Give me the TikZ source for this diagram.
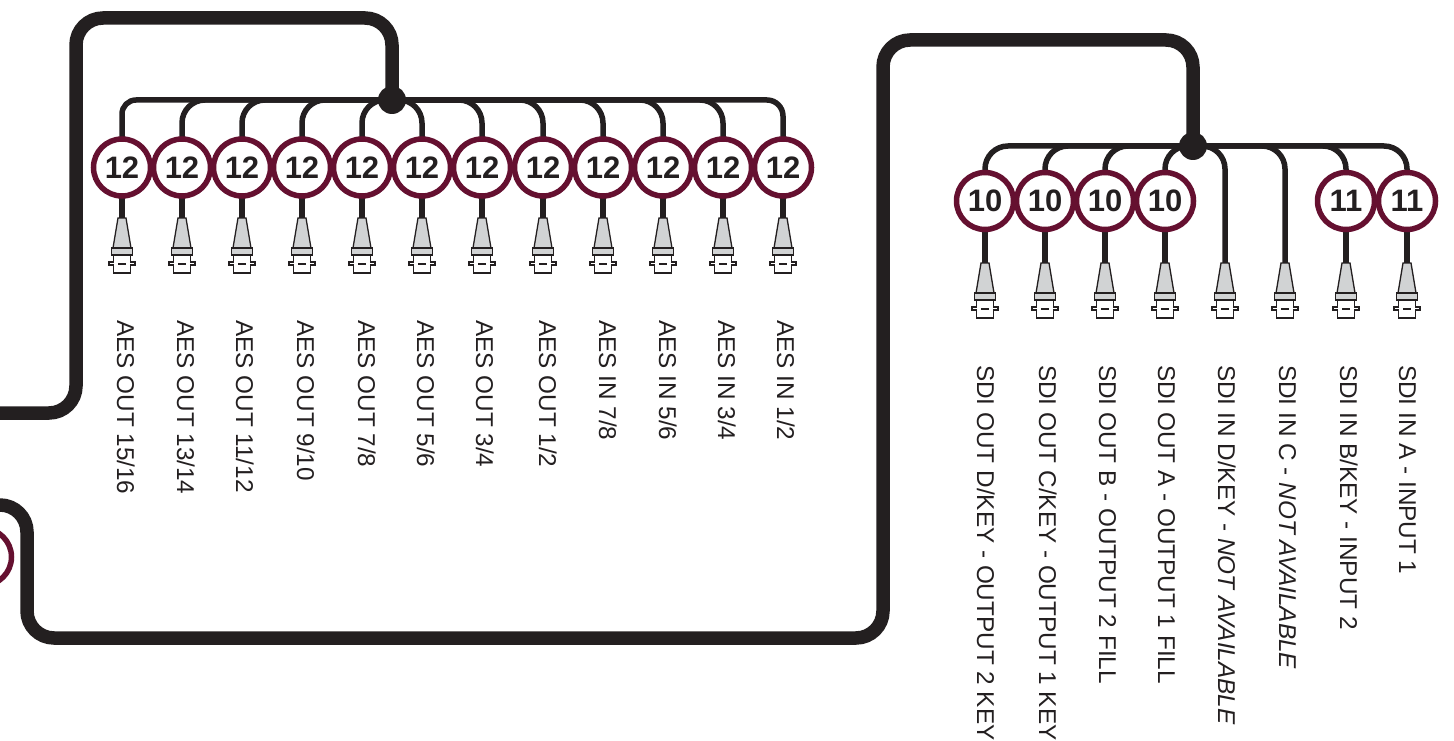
\documentclass[tikz,border=0pt]{standalone}
\usepackage{fontspec}
\setmainfont{Liberation Sans}
\pgfdeclarelayer{bg}
\pgfsetlayers{bg,main}
\definecolor{ink}{HTML}{231F20}
\definecolor{wine}{HTML}{651030}
\definecolor{shell}{HTML}{D1D3D4}
\tikzset{
  cable/.style={draw=ink,line width=5.5pt},
  trunk/.style={draw=ink,line width=13.5pt,rounded corners=27pt},
  badge/.style={circle,draw=wine,line width=5.5pt,fill=white,minimum size=57pt,inner sep=0pt,text=ink,font=\bfseries\fontsize{31}{33}\selectfont},
  junction/.style={circle,fill=ink,minimum size=28pt,inner sep=0pt},
  portlabel/.style={rotate=-90,anchor=base west,inner sep=0pt,text=ink,font=\fontsize{24.3}{28}\selectfont},
  bncline/.style={draw=ink,line width=1.3pt,line join=miter},
}
% #1 = name of the coordinate at the tip of the connector
\newcommand{\bncplug}[1]{%
  \begin{scope}[shift={(#1)}]
    \filldraw[bncline,fill=shell] (-4,0) -- (4,0) -- (9,30) -- (-9,30) -- cycle;
    \draw[bncline,fill=white] (-8.5,37) -- (-8.5,44) -- (-13,44) -- (-13,47) -- (-8.5,47) -- (-8.5,55) -- (8.5,55) -- (8.5,47) -- (13,47) -- (13,44) -- (8.5,44) -- (8.5,37) -- cycle;
    \filldraw[bncline,fill=shell] (-10.5,30) rectangle (10.5,37);
    \draw[draw=ink,line width=1.1pt] (-4,46) -- (4,46);
  \end{scope}}
\begin{document}
\begin{tikzpicture}[x=1pt,y=-1pt]
\useasboundingbox (0,0) rectangle (1454,741);
\clip (0,0) rectangle (1454,741);

% junctions
\node[junction] (j1) at (392,100) {};
\node[junction] (j2) at (1193,146) {};

% left group badges
\foreach \n/\x in {a1/122,a2/182,a3/242,a4/302,a5/362,a6/422,a7/482,a8/543,a9/603,a10/663,a11/723,a12/783}
  \node[badge] (\n) at (\x,167.5) {12};
% right group badges
\foreach \n/\x/\t in {b1/985/10,b2/1045/10,b3/1105/10,b4/1165/10,b7/1346/11,b8/1407/11}
  \node[badge] (\n) at (\x,201) {\t};

% plug tips
\foreach \n/\x in {a1/122,a2/182,a3/242,a4/302,a5/362,a6/422,a7/482,a8/543,a9/603,a10/663,a11/723,a12/783}
  \coordinate (p\n) at (\x,218);
\foreach \n/\x in {b1/985,b2/1045,b3/1105,b4/1165,b5/1225,b6/1285,b7/1346,b8/1407}
  \coordinate (p\n) at (\x,263);

% route corners of the trunks
\coordinate (t1a) at (392,18);
\coordinate (t1b) at (76,18);
\coordinate (t1c) at (76,413);
\coordinate (t1d) at (-10,413);
\coordinate (t2a) at (1193,40);
\coordinate (t2b) at (883,40);
\coordinate (t2c) at (883,638);
\coordinate (t2d) at (27,638);
\coordinate (t2e) at (27,505);
\coordinate (t2f) at (-10,505);

\begin{pgfonlayer}{bg}
  % bus cables
  \draw[cable,rounded corners=14pt] (a1.center) |- (j1.center);
  \foreach \n in {a2,a3,a4,a5}
    \draw[cable,rounded corners=23pt] (\n.center) |- (j1.center);
  \foreach \n in {a6,a7,a8,a9,a10,a11}
    \draw[cable,rounded corners=23pt] (\n.center) |- (j1.center);
  \draw[cable,rounded corners=16pt] (a12.center) |- (j1.center);
  \foreach \n in {b1,b2,b3,b4}
    \draw[cable,rounded corners=23pt] (\n.center) |- (j2.center);
  \foreach \n in {pb5,pb6}
    \draw[cable,rounded corners=23pt] (\n) |- (j2.center);
  \foreach \n in {b7,b8}
    \draw[cable,rounded corners=23pt] (\n.center) |- (j2.center);
  % drops to the plugs
  \foreach \n in {a1,a2,a3,a4,a5,a6,a7,a8,a9,a10,a11,a12,b1,b2,b3,b4,b7,b8}
    \draw[cable] (\n.center) -- (p\n);
  % trunks
  \draw[trunk] (j1.center) -- (t1a) -- (t1b) -- (t1c) -- (t1d);
  \draw[trunk] (j2.center) -- (t2a) -- (t2b) -- (t2c) -- (t2d) -- (t2e) -- (t2f);
\end{pgfonlayer}

% off-page badge at the left edge
\node[badge] (off) at (-17,557) {};

% plugs
\foreach \n in {a1,a2,a3,a4,a5,a6,a7,a8,a9,a10,a11,a12,b1,b2,b3,b4,b5,b6,b7,b8}
  \bncplug{p\n};

% labels, left group
\foreach \x/\t in {117/AES OUT 15\slash 16,177/AES OUT 13\slash 14,236/AES OUT 11\slash 12,297/AES OUT 9\slash 10,358/AES OUT 7\slash 8,417/AES OUT 5\slash 6,476/AES OUT 3\slash 4,539/AES OUT 1\slash 2,599/AES IN 7\slash 8,659/AES IN 5\slash 6,718/AES IN 3\slash 4,777/AES IN 1\slash 2}
  \node[portlabel] at (\x,320) {\t};
% labels, right group
\node[portlabel] (l1) at (977,365) {SDI OUT D/KEY - OUTPUT 2 KEY};
\node[portlabel] (l2) at (1039,365) {SDI OUT C/KEY - OUTPUT 1 KEY};
\node[portlabel] (l3) at (1099,365) {SDI OUT B - OUTPUT 2 FILL};
\node[portlabel] (l4) at (1158,365) {SDI OUT A - OUTPUT 1 FILL};
\node[portlabel] (l5) at (1218,365) {SDI IN D/KEY - \textit{NOT AVAILABLE}};
\node[portlabel] (l6) at (1279,365) {SDI IN C - \textit{NOT AVAILABLE}};
\node[portlabel] (l7) at (1340,365) {SDI IN B/KEY - INPUT 2};
\node[portlabel] (l8) at (1399,365) {SDI IN A - INPUT 1};
\end{tikzpicture}
\end{document}
